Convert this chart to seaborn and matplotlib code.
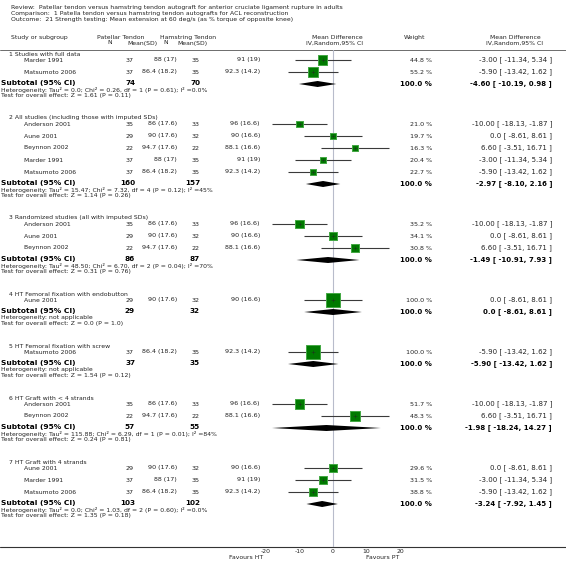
import numpy as np
import pandas as pd
import matplotlib
matplotlib.use("Agg")
import matplotlib.pyplot as plt
import seaborn as sns

# --- data ------------------------------------------------------------------
group_titles = [
    "1 Studies with full data",
    "2 All studies (including those with imputed SDs)",
    "3 Randomized studies (all with imputed SDs)",
    "4 HT Femoral fixation with endobutton",
    "5 HT Femoral fixation with screw",
    "6 HT Graft with < 4 strands",
    "7 HT Graft with 4 strands",
]

study_group = [0, 0, 1, 1, 1, 1, 1, 2, 2, 2, 3, 4, 5, 5, 6, 6, 6]
study_name = ["Marder 1991", "Matsumoto 2006",
              "Anderson 2001", "Aune 2001", "Beynnon 2002", "Marder 1991", "Matsumoto 2006",
              "Anderson 2001", "Aune 2001", "Beynnon 2002",
              "Aune 2001",
              "Matsumoto 2006",
              "Anderson 2001", "Beynnon 2002",
              "Aune 2001", "Marder 1991", "Matsumoto 2006"]
pt_n = [37, 37, 35, 29, 22, 37, 37, 35, 29, 22, 29, 37, 35, 22, 29, 37, 37]
pt_msd = ["88 (17)", "86.4 (18.2)", "86 (17.6)", "90 (17.6)", "94.7 (17.6)", "88 (17)",
          "86.4 (18.2)", "86 (17.6)", "90 (17.6)", "94.7 (17.6)", "90 (17.6)", "86.4 (18.2)",
          "86 (17.6)", "94.7 (17.6)", "90 (17.6)", "88 (17)", "86.4 (18.2)"]
ht_n = [35, 35, 33, 32, 22, 35, 35, 33, 32, 22, 32, 35, 33, 22, 32, 35, 35]
ht_msd = ["91 (19)", "92.3 (14.2)", "96 (16.6)", "90 (16.6)", "88.1 (16.6)", "91 (19)",
          "92.3 (14.2)", "96 (16.6)", "90 (16.6)", "88.1 (16.6)", "90 (16.6)", "92.3 (14.2)",
          "96 (16.6)", "88.1 (16.6)", "90 (16.6)", "91 (19)", "92.3 (14.2)"]
weight = [44.8, 55.2, 21.0, 19.7, 16.3, 20.4, 22.7, 35.2, 34.1, 30.8, 100.0, 100.0,
          51.7, 48.3, 29.6, 31.5, 38.8]
md = [-3.00, -5.90, -10.00, 0.0, 6.60, -3.00, -5.90, -10.00, 0.0, 6.60, 0.0, -5.90,
      -10.00, 6.60, 0.0, -3.00, -5.90]
md_lo = [-11.34, -13.42, -18.13, -8.61, -3.51, -11.34, -13.42, -18.13, -8.61, -3.51,
         -8.61, -13.42, -18.13, -3.51, -8.61, -11.34, -13.42]
md_hi = [5.34, 1.62, -1.87, 8.61, 16.71, 5.34, 1.62, -1.87, 8.61, 16.71, 8.61, 1.62,
         -1.87, 16.71, 8.61, 5.34, 1.62]

sub_pt_n = [74, 160, 86, 29, 37, 57, 103]
sub_ht_n = [70, 157, 87, 32, 35, 55, 102]
sub_md = [-4.60, -2.97, -1.49, 0.0, -5.90, -1.98, -3.24]
sub_lo = [-10.19, -8.10, -10.91, -8.61, -13.42, -18.24, -7.92]
sub_hi = [0.98, 2.16, 7.93, 8.61, 1.62, 14.27, 1.45]
heterogeneity = [
    "Heterogeneity: Tau² = 0.0; Chi² = 0.26, df = 1 (P = 0.61); I² =0.0%",
    "Heterogeneity: Tau² = 15.47; Chi² = 7.32, df = 4 (P = 0.12); I² =45%",
    "Heterogeneity: Tau² = 48.50; Chi² = 6.70, df = 2 (P = 0.04); I² =70%",
    "Heterogeneity: not applicable",
    "Heterogeneity: not applicable",
    "Heterogeneity: Tau² = 115.88; Chi² = 6.29, df = 1 (P = 0.01); I² =84%",
    "Heterogeneity: Tau² = 0.0; Chi² = 1.03, df = 2 (P = 0.60); I² =0.0%",
]
overall_test = ["Z = 1.61 (P = 0.11)", "Z = 1.14 (P = 0.26)", "Z = 0.31 (P = 0.76)",
                "Z = 0.0 (P = 1.0)", "Z = 1.54 (P = 0.12)", "Z = 0.24 (P = 0.81)",
                "Z = 1.35 (P = 0.18)"]

xticks = [-20, -10, 0, 10, 20]


def fmt(v):
    return "0.0" if v == 0 else f"{v:.2f}"


def ci_text(m, lo, hi):
    return f"{fmt(m)} [ {fmt(lo)}, {fmt(hi)} ]"


# --- row layout (pixel rows, top = 0) ---------------------------------------
header_y, study_y, sub_y = [], [None] * len(study_name), []
y = 54
for g in range(len(group_titles)):
    header_y.append(y)
    idx = [i for i, sg in enumerate(study_group) if sg == g]
    for k, i in enumerate(idx):
        study_y[i] = y + 6 + 12 * k
    sy = y + 6 + 12 * (len(idx) - 1) + 12
    sub_y.append(sy)
    y = sy + 11 + 23

df = pd.DataFrame({"md": md, "row": study_y, "weight": weight})

# --- figure -----------------------------------------------------------------
sns.set_style("white")
plt.rcParams["font.family"] = ["DejaVu Sans"]
W, H = 566, 577
fig = plt.figure(figsize=(W / 100, H / 100), dpi=100)

ax_t = fig.add_axes([0, 0, 1, 1])
ax_t.set_xlim(0, W)
ax_t.set_ylim(H, 0)
ax_t.axis("off")

tc = "#222222"
fs = 4.4        # names / headers
fs_num = 4.6    # numeric columns
fs_ci = 5.0     # mean difference column
fs_small = 4.4  # heterogeneity / test lines
fs_bold = 5.4   # "Subtotal (95% CI)"

# titles
ax_t.text(11, 7, "Review:  Patellar tendon versus hamstring tendon autograft for anterior cruciate ligament rupture in adults",
          fontsize=4.4, color=tc, va="center")
ax_t.text(11, 13, "Comparison:  1 Patella tendon versus hamstring tendon autografts for ACL reconstruction",
          fontsize=4.4, color=tc, va="center")
ax_t.text(11, 19, "Outcome:  21 Strength testing: Mean extension at 60 deg/s (as % torque of opposite knee)",
          fontsize=4.4, color=tc, va="center")

# column headers
ax_t.text(11, 37.5, "Study or subgroup", fontsize=fs, color=tc, va="center")
ax_t.text(97, 37.5, "Patellar Tendon", fontsize=fs, color=tc, va="center")
ax_t.text(110, 43, "N", fontsize=fs, color=tc, va="center", ha="center")
ax_t.text(157, 43, "Mean(SD)", fontsize=fs, color=tc, va="center", ha="right")
ax_t.text(160, 37.5, "Hamstring Tendon", fontsize=fs, color=tc, va="center")
ax_t.text(166, 43, "N", fontsize=fs, color=tc, va="center", ha="center")
ax_t.text(208, 43, "Mean(SD)", fontsize=fs, color=tc, va="center", ha="right")
ax_t.text(337, 37.5, "Mean Difference", fontsize=fs, color=tc, va="center", ha="center")
ax_t.text(335, 43, "IV,Random,95% CI", fontsize=fs, color=tc, va="center", ha="center")
ax_t.text(415, 37.5, "Weight", fontsize=fs, color=tc, va="center", ha="center")
ax_t.text(515, 37.5, "Mean Difference", fontsize=fs, color=tc, va="center", ha="center")
ax_t.text(515, 43, "IV,Random,95% CI", fontsize=fs, color=tc, va="center", ha="center")
ax_t.plot([0, W], [49.5, 49.5], color="#555555", lw=0.6)

# study rows
for i in range(len(study_name)):
    yy = study_y[i]
    ax_t.text(24, yy, study_name[i], fontsize=fs, color=tc, va="center")
    ax_t.text(134, yy, str(pt_n[i]), fontsize=fs_num, color=tc, va="center", ha="right")
    ax_t.text(177, yy, pt_msd[i], fontsize=fs_num, color=tc, va="center", ha="right")
    ax_t.text(200, yy, str(ht_n[i]), fontsize=fs_num, color=tc, va="center", ha="right")
    ax_t.text(260, yy, ht_msd[i], fontsize=fs_num, color=tc, va="center", ha="right")
    ax_t.text(432, yy, f"{weight[i]:.1f} %", fontsize=fs_num, color=tc, va="center", ha="right")
    ax_t.text(552, yy, ci_text(md[i], md_lo[i], md_hi[i]), fontsize=fs_ci, color=tc,
              va="center", ha="right")

# groups
for g in range(len(group_titles)):
    ax_t.text(9, header_y[g], group_titles[g], fontsize=fs, color=tc, va="center")
    sy = sub_y[g]
    ax_t.text(1, sy - 0.8, "Subtotal (95% CI)", fontsize=fs_bold, color="black", va="center",
              weight="bold")
    ax_t.text(135, sy - 0.8, str(sub_pt_n[g]), fontsize=5.2, color="black", va="center",
              ha="right", weight="bold")
    ax_t.text(200, sy - 0.8, str(sub_ht_n[g]), fontsize=5.2, color="black", va="center",
              ha="right", weight="bold")
    ax_t.text(432, sy, "100.0 %", fontsize=5.0, color="black", va="center", ha="right",
              weight="bold")
    ax_t.text(552, sy, ci_text(sub_md[g], sub_lo[g], sub_hi[g]),
              fontsize=5.0, color="black", va="center", ha="right", weight="bold")
    ax_t.text(1, sy + 5.6, heterogeneity[g], fontsize=fs_small, color=tc, va="center")
    ax_t.text(1, sy + 11, "Test for overall effect: " + overall_test[g], fontsize=fs_small,
              color=tc, va="center")

# bottom axis line and labels
ax_t.plot([0, W], [547, 547], color="#333333", lw=0.8)
ax_t.text(263, 557.5, "Favours HT", fontsize=fs, color=tc, va="center", ha="right")
ax_t.text(366, 557.5, "Favours PT", fontsize=fs, color=tc, va="center", ha="left")

# --- forest panel --------------------------------------------------------------
ax = fig.add_axes([266 / W, (H - 547) / H, 134 / W, (547 - 50) / H])
ax.set_xlim(-20, 20)
ax.set_ylim(547, 50)
ax.patch.set_alpha(0)
for s in ["top", "left", "right", "bottom"]:
    ax.spines[s].set_visible(False)

ax.axvline(0, color="#b8bccb", lw=0.8, zorder=0)

# confidence intervals
ax.hlines(study_y, md_lo, md_hi, color="#3a3a3a", lw=0.8, zorder=1)

# weight squares (area proportional to weight)
sns.scatterplot(data=df, x="md", y="row", size="weight", size_norm=(0, 100),
                sizes=(0, 95), marker="s", color="#007a00", edgecolor="#44a844",
                linewidth=0.7, legend=False, ax=ax, zorder=2, clip_on=False)
ax.scatter(md, study_y, marker="+", s=6, color="#1a3a1a", lw=0.4, zorder=3)

# pooled diamonds
for g in range(len(group_titles)):
    sy = sub_y[g]
    ax.fill([sub_lo[g], sub_md[g], sub_hi[g], sub_md[g]],
            [sy, sy - 3, sy, sy + 3], color="black", lw=0, zorder=3, clip_on=False)

ax.set_xticks(xticks)
ax.set_xticklabels([str(t) for t in xticks], fontsize=fs, color=tc)
ax.tick_params(axis="x", direction="in", length=3, width=0.6, color="#333333", pad=1.5)
ax.set_yticks([])
ax.set_xlabel("")
ax.set_ylabel("")

fig.savefig("out.png", dpi=100)
